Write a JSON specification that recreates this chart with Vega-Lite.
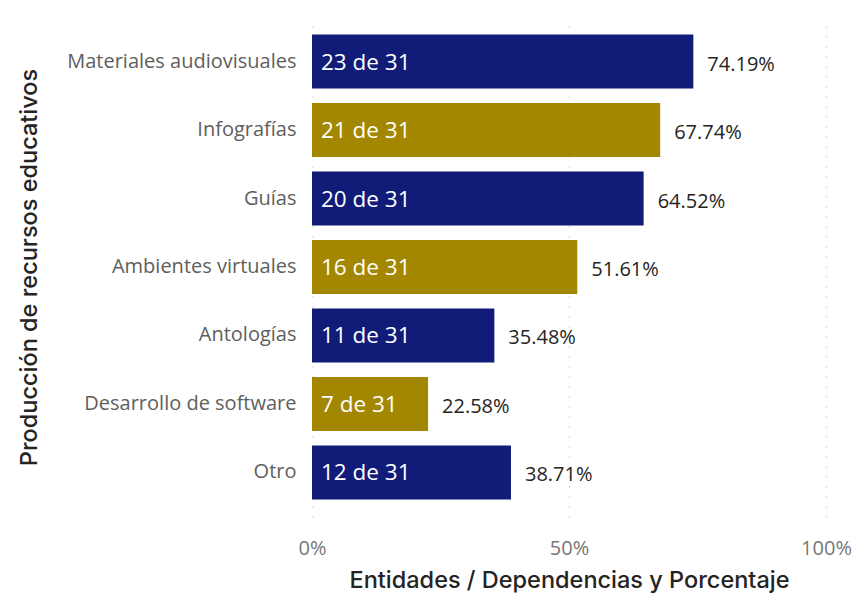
{
  "$schema": "https://vega.github.io/schema/vega-lite/v6.json",
  "width": 514,
  "height": 500,
  "autosize": "none",
  "padding": {"left": 312, "top": 17, "right": 41, "bottom": 88},
  "background": "white",
  "config": {"view": {"stroke": null}},
  "data": {
    "values": [
      {"categoria": "Materiales audiovisuales", "n": 23, "total": 31, "pct": 0.7419, "texto": "23 de 31", "serie": "A"},
      {"categoria": "Infografías", "n": 21, "total": 31, "pct": 0.6774, "texto": "21 de 31", "serie": "B"},
      {"categoria": "Guías", "n": 20, "total": 31, "pct": 0.6452, "texto": "20 de 31", "serie": "A"},
      {"categoria": "Ambientes virtuales", "n": 16, "total": 31, "pct": 0.5161, "texto": "16 de 31", "serie": "B"},
      {"categoria": "Antologías", "n": 11, "total": 31, "pct": 0.3548, "texto": "11 de 31", "serie": "A"},
      {"categoria": "Desarrollo de software", "n": 7, "total": 31, "pct": 0.2258, "texto": "7 de 31", "serie": "B"},
      {"categoria": "Otro", "n": 12, "total": 31, "pct": 0.3871, "texto": "12 de 31", "serie": "A"}
    ]
  },
  "encoding": {
    "y": {
      "field": "categoria",
      "type": "nominal",
      "sort": null,
      "scale": {"paddingInner": 0.21, "paddingOuter": 0.255},
      "axis": {
        "title": "Producción de recursos educativos",
        "titleFont": "Inter",
        "titleFontSize": 23.5,
        "titleFontWeight": 500,
        "titleColor": "#252423",
        "titleX": -283,
        "titleY": 250,
        "titleAlign": "center",
        "titleBaseline": "middle",
        "labelFont": "Open Sans",
        "labelFontSize": 20,
        "labelColor": "#605E5C",
        "labelPadding": 16,
        "labelLimit": 0,
        "domain": false,
        "ticks": false,
        "grid": false
      }
    },
    "x": {
      "field": "pct",
      "type": "quantitative",
      "scale": {"domain": [0, 1], "nice": false},
      "axis": {
        "title": "Entidades / Dependencias y Porcentaje",
        "titleFont": "Inter",
        "titleFontSize": 23.5,
        "titleFontWeight": 500,
        "titleColor": "#252423",
        "titlePadding": 10,
        "values": [0, 0.5, 1],
        "format": ".0%",
        "labelFont": "Open Sans",
        "labelFontSize": 20,
        "labelColor": "#777777",
        "labelPadding": 21,
        "labelFlush": false,
        "domain": false,
        "ticks": false,
        "grid": true,
        "gridColor": "#C8C8C8",
        "gridDash": [1, 9],
        "gridWidth": 1.5
      }
    }
  },
  "layer": [
    {
      "mark": {"type": "bar"},
      "encoding": {
        "color": {
          "field": "serie",
          "type": "nominal",
          "scale": {"domain": ["A", "B"], "range": ["#111C78", "#A48700"]},
          "legend": null
        }
      }
    },
    {
      "mark": {"type": "text", "align": "left", "baseline": "middle", "dx": 9, "dy": 1, "font": "Open Sans", "fontSize": 22.5, "color": "white"},
      "encoding": {
        "x": {"datum": 0, "type": "quantitative"},
        "text": {"field": "texto"}
      }
    },
    {
      "mark": {"type": "text", "align": "left", "baseline": "middle", "dx": 14, "dy": 3, "font": "Open Sans", "fontSize": 20, "color": "#252423"},
      "encoding": {
        "text": {"field": "pct", "type": "quantitative", "format": ".2%"}
      }
    }
  ]
}
